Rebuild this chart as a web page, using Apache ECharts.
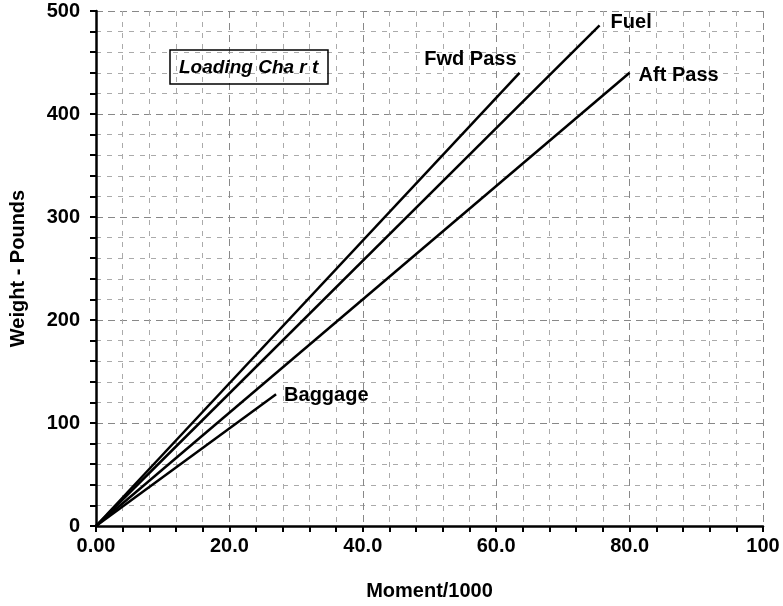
<!DOCTYPE html>
<html>
<head>
<meta charset="utf-8">
<script src="https://cdn.jsdelivr.net/npm/echarts@6/dist/echarts.min.js"></script>
<style>html,body{margin:0;padding:0;background:#fff}#c{width:783px;height:606px}</style>
</head>
<body>
<div id="c"></div>
<script>
// Data: [Moment/1000, Weight]
const fwdPass = [[0, 0], [63.5, 440]];
const fuel = [[0, 0], [75.5, 486]];
const aftPass = [[0, 0], [80, 440]];
const baggage = [[0, 0], [27, 128]];
const seriesNames = ['Fwd Pass', 'Fuel', 'Aft Pass', 'Baggage'];
const xTickLabels = {0: '0.00', 20: '20.0', 40: '40.0', 60: '60.0', 80: '80.0', 100: '100'};
const chartTitle = 'Loading Cha r t';

const FONT = '"Liberation Sans", Arial, sans-serif';
const chart = echarts.init(document.getElementById('c'));

function mkSeries(name, data, align, offset) {
  return {
    name: name,
    type: 'line',
    data: data,
    symbol: 'none',
    lineStyle: {color: '#000', width: 2.5},
    endLabel: {
      show: true, formatter: name, align: align, verticalAlign: 'middle',
      offset: offset, distance: 0,
      color: '#000', fontFamily: FONT, fontWeight: 'bold', fontSize: 20
    },
    animation: false,
    z: 5
  };
}

chart.setOption({
  animation: false,
  title: {
    text: chartTitle,
    left: 170, top: 50,
    borderColor: '#000', borderWidth: 1.5,
    padding: [8, 10, 7, 9],
    textStyle: {fontFamily: FONT, fontStyle: 'italic', fontWeight: 'bold', fontSize: 19, color: '#000'}
  },
  grid: {left: 93, right: 20, top: 11, bottom: 79},
  xAxis: {
    type: 'value', min: 0, max: 100, interval: 20,
    name: 'Moment/1000', nameLocation: 'middle', nameGap: 55,
    nameTextStyle: {fontFamily: FONT, fontWeight: 'bold', fontSize: 20, color: '#000'},
    axisLine: {show: true, lineStyle: {color: '#000', width: 2.5}},
    axisTick: {show: true, length: 6, lineStyle: {color: '#000', width: 2}},
    minorTick: {show: true, splitNumber: 5, length: 6, lineStyle: {color: '#000', width: 2}},
    axisLabel: {formatter: v => xTickLabels[v], fontFamily: FONT, fontWeight: 'bold', fontSize: 20, color: '#000', margin: 10},
    splitLine: {show: true, lineStyle: {color: '#888', type: [7, 5], width: 1}},
    minorSplitLine: {show: true, lineStyle: {color: '#aaa', type: [5, 6], width: 1}}
  },
  yAxis: {
    type: 'value', min: 0, max: 500, interval: 100,
    name: 'Weight - Pounds', nameLocation: 'middle', nameGap: 68, nameRotate: 90,
    nameTextStyle: {fontFamily: FONT, fontWeight: 'bold', fontSize: 20, color: '#000'},
    axisLine: {show: true, lineStyle: {color: '#000', width: 2.5}},
    axisTick: {show: true, length: 6, lineStyle: {color: '#000', width: 2}},
    minorTick: {show: true, splitNumber: 5, length: 6, lineStyle: {color: '#000', width: 2}},
    axisLabel: {fontFamily: FONT, fontWeight: 'bold', fontSize: 20, color: '#000', margin: 16},
    splitLine: {show: true, lineStyle: {color: '#888', type: [7, 5], width: 1}},
    minorSplitLine: {show: true, lineStyle: {color: '#aaa', type: [5, 6], width: 1}}
  },
  series: [
    mkSeries(seriesNames[0], fwdPass, 'right', [-3, -13]),
    mkSeries(seriesNames[1], fuel, 'left', [11, -3]),
    mkSeries(seriesNames[2], aftPass, 'left', [9, 3]),
    mkSeries(seriesNames[3], baggage, 'left', [8, 1])
  ]
});
</script>
</body>
</html>
